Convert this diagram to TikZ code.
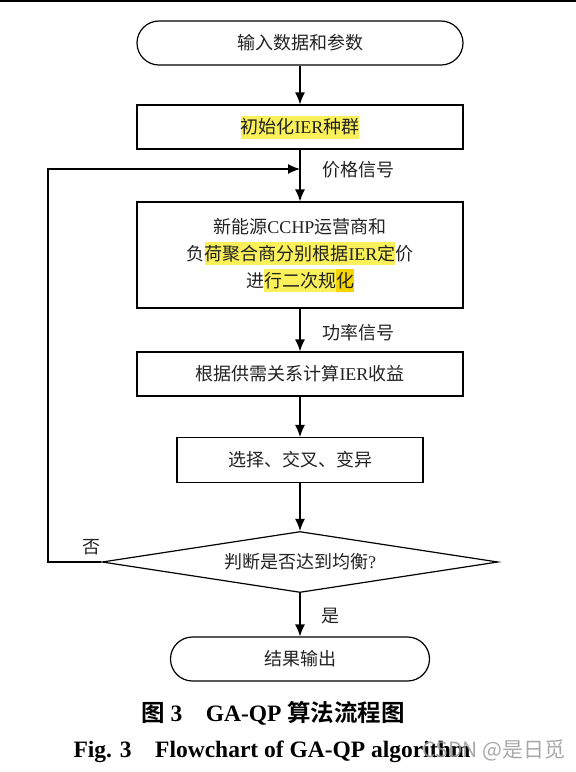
\documentclass[tikz,border=0pt]{standalone}
\usepackage{fontspec}
\setmainfont{Liberation Serif}
\newfontfamily\cjk{Noto Sans CJK SC}[BoldFont={Noto Sans CJK SC Bold}]
\newfontfamily\wmfont{Noto Sans CJK SC}
\usetikzlibrary{arrows.meta,shapes.geometric}
\definecolor{hlyellow}{HTML}{FAF05A}
\definecolor{hlgold}{HTML}{F5D500}
\definecolor{inkgray}{HTML}{222222}
\newcommand\zh[1]{{\cjk #1}}
\newcommand\hl[2][hlyellow]{{\setlength{\fboxsep}{0pt}\colorbox{#1}{\rule[-5pt]{0pt}{23pt}#2}}}

\begin{document}
\begin{tikzpicture}[x=1pt, y=-1pt,
    every node/.style={text=inkgray, font=\fontsize{18}{27}\selectfont},
    proc/.style={draw=black, line width=1.2pt, rectangle, minimum height=44pt, inner sep=0pt},
    term/.style={draw=black, line width=1.2pt, rectangle, rounded corners=22pt, minimum height=44pt, inner sep=0pt},
    flow/.style={line width=1.2pt, -{Latex[length=12pt,width=10pt]}},
    lbl/.style={inner sep=0pt},
    caption/.style={text=black, font=\fontsize{23.5}{27}\selectfont\bfseries}]
      \useasboundingbox (0,0) rectangle (576,772);
      \draw[line width=2pt] (0,1) -- (576,1);
      %
      \node[term, minimum width=326pt] (start) at (300,43) {\zh{输入数据和参数}};
      \node[proc, minimum width=326pt] (init) at (300,127) {\hl{\zh{初始化}IER\zh{种群}}};
      \node[proc, minimum width=326pt, minimum height=106pt, align=center] (plan) at (300,255)
        {\zh{新能源}CCHP\zh{运营商和}\\
         \zh{负}\hl{\zh{荷聚合商分别根据}IER\zh{定}}\zh{价}\\
         \zh{进}\hl{\zh{行二次规}}\hl[hlgold]{\zh{化}}};
      \node[proc, minimum width=326pt] (calc) at (300,374) {\zh{根据供需关系计算}IER\zh{收益}};
      \node[proc, minimum width=246pt, minimum height=45pt] (ga) at (300,460) {\zh{选择、交叉、变异}};
      \node[draw=black, line width=1.2pt, diamond, shape aspect=6.5, minimum width=396pt, minimum height=61pt, inner sep=0pt] (judge) at (300,562) {\zh{判断是否达到均衡}?};
      \node[term, minimum width=259pt] (finish) at (300,659) {\zh{结果输出}};
      %
      \coordinate (corner) at (48,562);
      \coordinate (back) at (300,169);
      \draw[flow] (start) -- (init);
      \draw[flow] (init) -- (plan);
      \draw[flow] (plan) -- (calc);
      \draw[flow] (calc) -- (ga);
      \draw[flow] (ga) -- (judge);
      \draw[flow] (judge) -- (finish);
      \draw[flow] (judge.west) -- (corner) |- (back);
      %
      \node[lbl] (price) at (358,170) {\zh{价格信号}};
      \node[lbl] (power) at (358,333) {\zh{功率信号}};
      \node[lbl] (no) at (91,547) {\zh{否}};
      \node[lbl] (yes) at (330,616) {\zh{是}};
      %
      \node[caption] (capzh) at (273,713) {\zh{图} 3\quad GA-QP \zh{算法流程图}};
      \node[caption] (capen) at (272,752) {Fig. 3\quad Flowchart of GA-QP algorithm};
      \node[text=black!40, opacity=0.85, font=\fontsize{21}{24}\selectfont] (mark) at (494,750) {\wmfont CSDN @是日觅};
    \end{tikzpicture}
\end{document}
